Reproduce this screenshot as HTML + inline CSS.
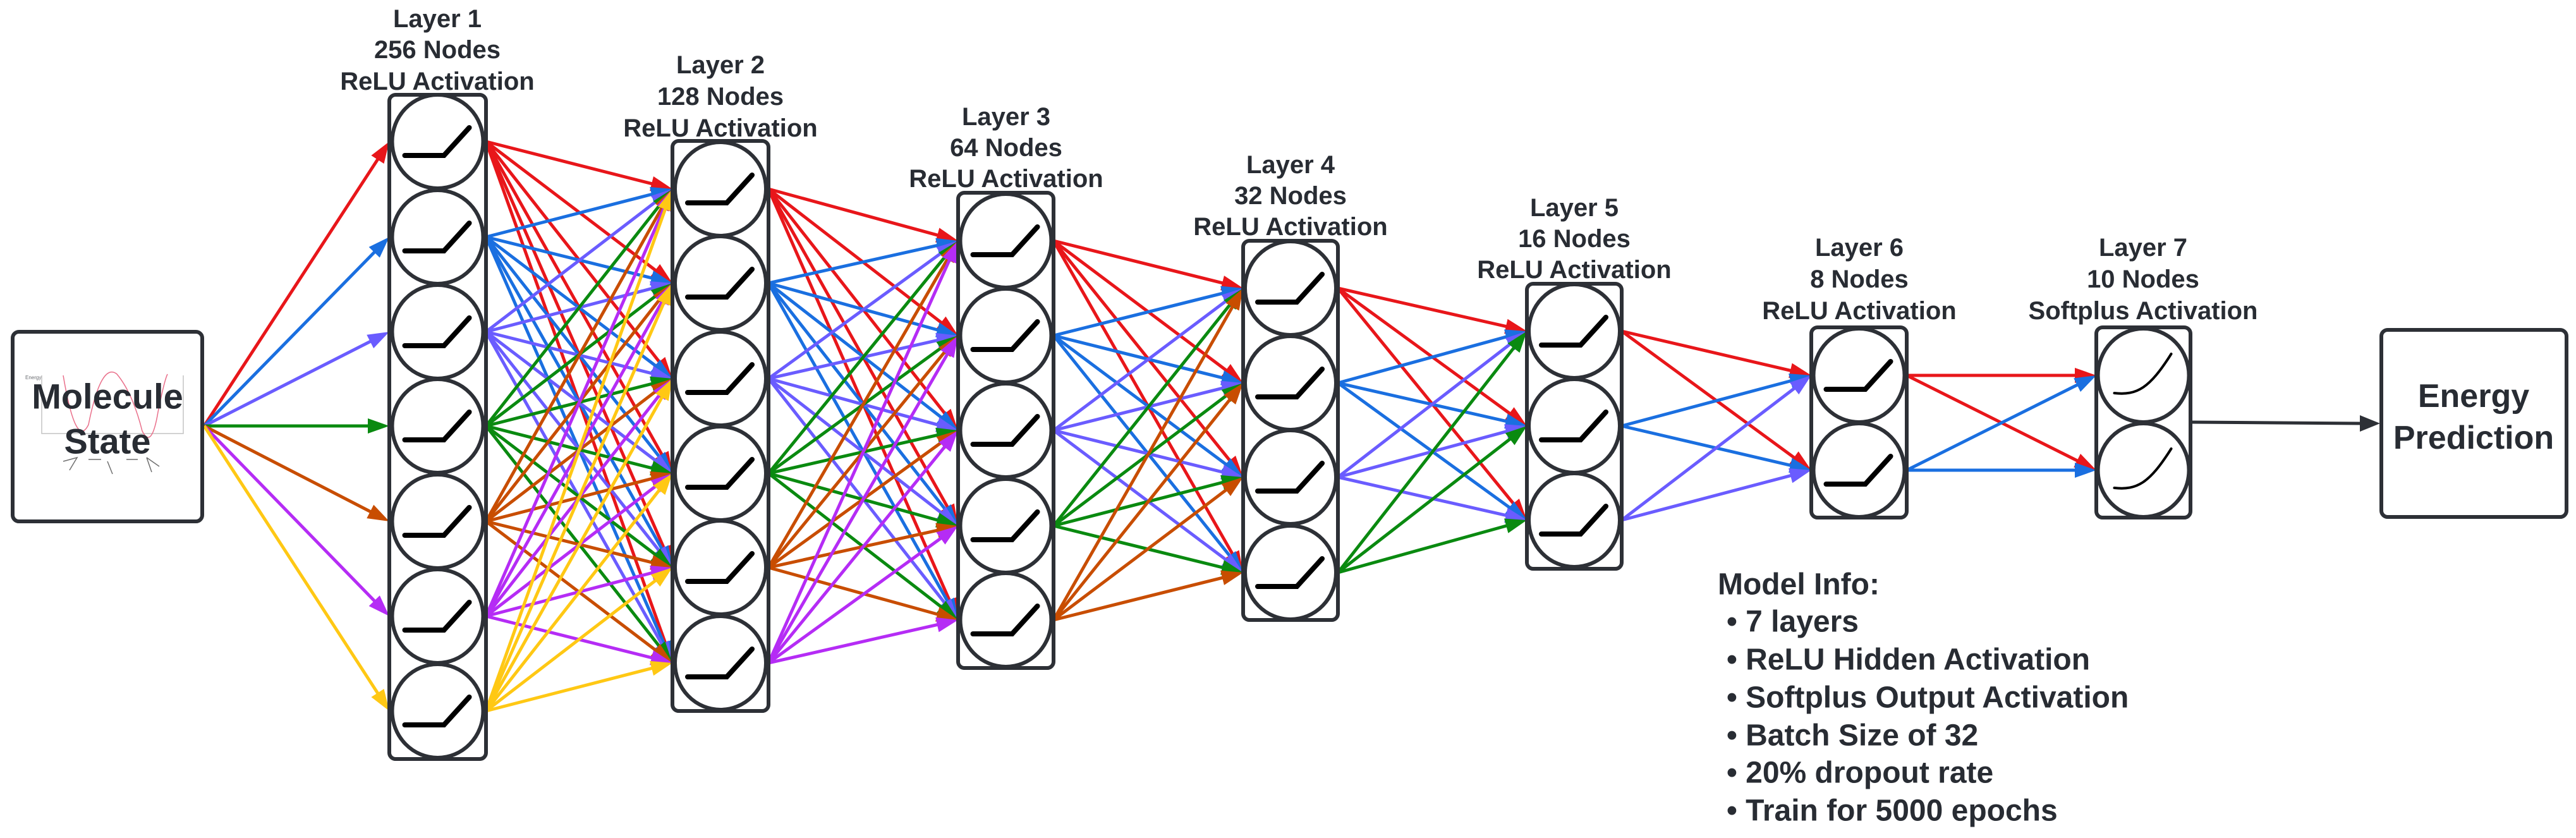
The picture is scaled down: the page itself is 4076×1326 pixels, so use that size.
<!DOCTYPE html>
<html><head><meta charset="utf-8"><style>
html,body{margin:0;padding:0;background:#fff;}
svg{display:block;}
text{font-family:"Liberation Sans",sans-serif;font-weight:bold;fill:#282c33;}
</style></head><body>
<svg id="s" width="4076" height="1326" viewBox="0 0 4076 1326" xmlns="http://www.w3.org/2000/svg">
<rect x="0" y="0" width="4076" height="1326" fill="#fff"/>
<g id="edges"></g>
<g id="nodes"></g>
<!-- Molecule box -->
<rect x="20" y="525" width="300" height="300" rx="10" fill="#fff" stroke="#2d3036" stroke-width="6"/>
<g opacity="0.7">
<path d="M66 594 L66 686 L290 686 L290 594" fill="none" stroke="#aaa" stroke-width="1.5"/>
<path d="M100 594 Q120 712 140 672 Q160 572 185 592 Q210 622 225 682 Q240 712 250 652 Q260 602 265 592" fill="none" stroke="#e0335a" stroke-width="1.5"/>
<text x="40" y="600" font-size="8" style="font-weight:normal">Energy</text>
<path d="M100 730 L122 724 L110 744 M140 727 L160 727 M170 730 L178 750 M200 727 L218 727 M232 724 L240 747 M232 724 L252 738" stroke="#333" stroke-width="1.5" fill="none"/>
</g>
<text x="170" y="627" font-size="56" text-anchor="middle" dominant-baseline="central">Molecule</text>
<text x="170" y="698" font-size="56" text-anchor="middle" dominant-baseline="central">State</text>
<!-- Energy box -->
<rect x="3768" y="522" width="293" height="296" rx="10" fill="#fff" stroke="#2d3036" stroke-width="6"/>
<text x="3914" y="627" font-size="52" text-anchor="middle" dominant-baseline="central">Energy</text>
<text x="3914" y="693" font-size="52" text-anchor="middle" dominant-baseline="central">Prediction</text>
<line x1="3469" y1="668" x2="3735" y2="670" stroke="#2d3036" stroke-width="5"/>
<polygon points="3766,670 3734,657 3734,683" fill="#2d3036"/>
<!-- Labels -->
<g font-size="40" text-anchor="middle" dominant-baseline="central">
<text x="692" y="30">Layer 1</text><text x="692" y="79">256 Nodes</text><text x="692" y="129">ReLU Activation</text>
<text x="1140" y="103">Layer 2</text><text x="1140" y="153">128 Nodes</text><text x="1140" y="203">ReLU Activation</text>
<text x="1592" y="185">Layer 3</text><text x="1592" y="234">64 Nodes</text><text x="1592" y="283">ReLU Activation</text>
<text x="2042" y="261">Layer 4</text><text x="2042" y="310">32 Nodes</text><text x="2042" y="359">ReLU Activation</text>
<text x="2491" y="329">Layer 5</text><text x="2491" y="378">16 Nodes</text><text x="2491" y="427">ReLU Activation</text>
<text x="2942" y="392">Layer 6</text><text x="2942" y="442">8 Nodes</text><text x="2942" y="492">ReLU Activation</text>
<text x="3391" y="392">Layer 7</text><text x="3391" y="442">10 Nodes</text><text x="3391" y="492">Softplus Activation</text>
</g>
<g font-size="48" dominant-baseline="central">
<text x="2718" y="925">Model Info:</text>
<text x="2732" y="984">• 7 layers</text>
<text x="2732" y="1044">• ReLU Hidden Activation</text>
<text x="2732" y="1104">• Softplus Output Activation</text>
<text x="2732" y="1164">• Batch Size of 32</text>
<text x="2732" y="1223">• 20% dropout rate</text>
<text x="2732" y="1283">• Train for 5000 epochs</text>
</g>
</svg>
<script>
var L=[
{x1:616,x2:769,c:[224,375,525,674,825,975,1125],t:150,b:1201},
{x1:1064,x2:1216,c:[299,448,599,749,898,1049],t:223,b:1125},
{x1:1516,x2:1667,c:[381,531,681,832,981],t:305,b:1057},
{x1:1967,x2:2117,c:[456,606,755,906],t:381,b:981},
{x1:2416,x2:2566,c:[524,674,823],t:449,b:900},
{x1:2866,x2:3017,c:[594,744],t:518,b:819},
{x1:3317,x2:3466,c:[594,744],t:518,b:819}];
var col=["#e8161a","#1a6fe0","#6a5cff","#0a8a10","#c84d00","#b52cf5","#ffc814"];
var E=document.getElementById('edges'),N=document.getElementById('nodes');
var ns="http://www.w3.org/2000/svg";
function el(p,t,a){var e=document.createElementNS(ns,t);for(var k in a)e.setAttribute(k,a[k]);p.appendChild(e);return e;}
function arrow(x1,y1,x2,y2,c){
 var dx=x2-x1,dy=y2-y1,l=Math.sqrt(dx*dx+dy*dy),ux=dx/l,uy=dy/l,h=34,w=12;
 var bx=x2-ux*h,by=y2-uy*h;
 el(E,'line',{x1:x1,y1:y1,x2:bx+ux*4,y2:by+uy*4,stroke:c,'stroke-width':5});
 el(E,'polygon',{points:x2+','+y2+' '+(bx-uy*w)+','+(by+ux*w)+' '+(bx+uy*w)+','+(by-ux*w),fill:c});
}
L[0].c.forEach(function(y,i){arrow(323,674,L[0].x1,y,col[i]);});
for(var i=0;i<L.length-1;i++){
 var a=L[i],b=L[i+1];
 a.c.forEach(function(ys,j){b.c.forEach(function(yt){arrow(a.x2,ys,b.x1,yt,col[j]);});});
}
L.forEach(function(l,i){
 var cx=(l.x1+l.x2)/2;
 el(N,'rect',{x:l.x1,y:l.t,width:l.x2-l.x1,height:l.b-l.t,rx:10,fill:'#fff',stroke:'#2d3036','stroke-width':6});
 l.c.forEach(function(cy){
  el(N,'ellipse',{cx:cx,cy:cy,rx:72,ry:74,fill:'#fff',stroke:'#2d3036','stroke-width':6});
  if(i<6) el(N,'path',{d:'M'+(cx-52)+' '+(cy+22)+' L'+(cx+10)+' '+(cy+22)+' L'+(cx+50)+' '+(cy-22),fill:'none',stroke:'#000','stroke-width':8,'stroke-linecap':'round'});
  else el(N,'path',{d:'M'+(cx-46)+' '+(cy+28)+' C'+(cx-10)+' '+(cy+32)+' '+(cx+10)+' '+(cy+20)+' '+(cx+44)+' '+(cy-34),fill:'none',stroke:'#000','stroke-width':4,'stroke-linecap':'round'});
 });
});
</script>
</body></html>
